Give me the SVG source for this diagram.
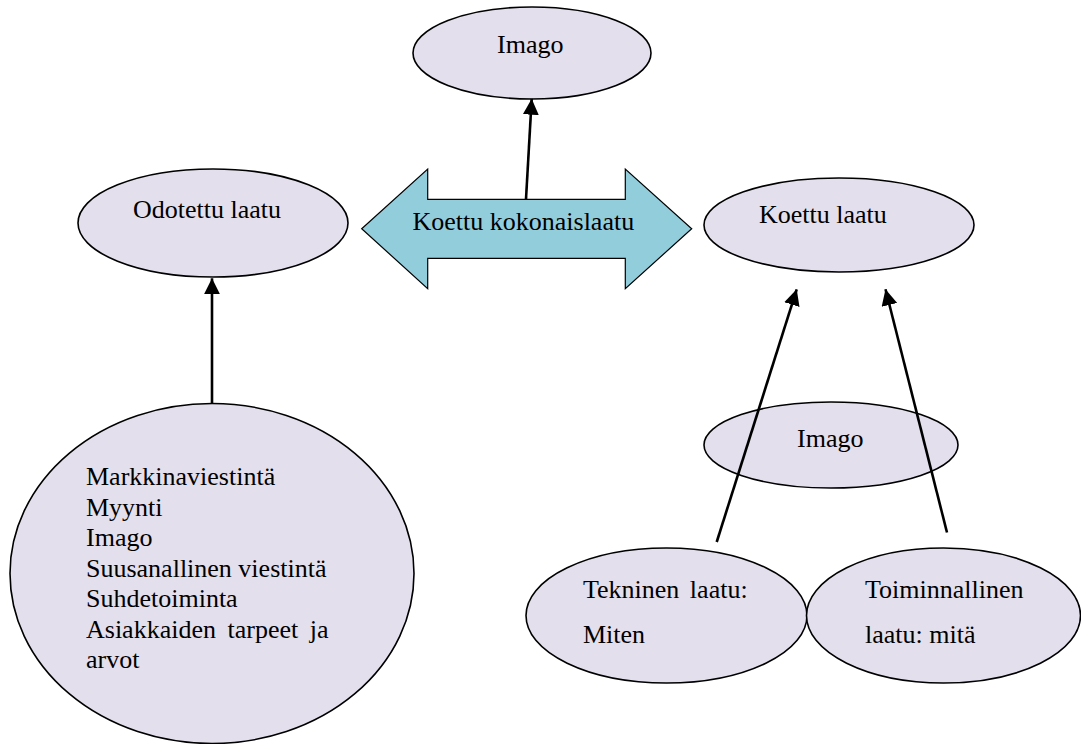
<svg xmlns="http://www.w3.org/2000/svg" width="1081" height="744" viewBox="0 0 1081 744">
<defs>
<style>
.node{fill:#E4DFEC;stroke:#000;stroke-width:1.6}
.big{fill:#92CDDC;stroke:#000;stroke-width:1.2}
.conn line{stroke:#000;stroke-width:2.6;marker-end:url(#ah)}
</style>
<marker id="ah" markerUnits="userSpaceOnUse" markerWidth="16" markerHeight="16" refX="16" refY="8" orient="auto" viewBox="0 0 16 16">
<path d="M0,0 L16,8 L0,16 Z" fill="#000"/>
</marker>
</defs>
<rect width="1081" height="744" fill="#fff"/>
<g font-family="'Liberation Serif', 'Times New Roman', 'DejaVu Serif', serif" font-size="26" fill="#000">
<g id="imago-top">
<ellipse class="node" cx="532" cy="53" rx="119" ry="46"/>
<text x="497" y="53">Imago</text>
</g>
<g id="koettu-kokonaislaatu">
<path class="big" d="M361.7,228.7 L427.7,169 L427.7,199.3 L625.3,199.3 L625.3,169 L691.7,228.7 L625.3,288.7 L625.3,258.3 L427.7,258.3 L427.7,288.7 Z"/>
<text x="412.5" y="230">Koettu kokonaislaatu</text>
</g>
<g id="odotettu-laatu">
<ellipse class="node" cx="213" cy="223" rx="135" ry="54"/>
<text x="133" y="218">Odotettu laatu</text>
</g>
<g id="koettu-laatu">
<ellipse class="node" cx="839" cy="225" rx="135" ry="47"/>
<text x="759" y="223">Koettu laatu</text>
</g>
<g id="imago-mid">
<ellipse class="node" cx="831" cy="445" rx="127" ry="43"/>
<text x="797" y="447">Imago</text>
</g>
<g id="tekijat">
<ellipse class="node" cx="212" cy="573.5" rx="202" ry="170"/>
<text x="86" y="485">Markkinaviestintä</text>
<text x="86" y="515.5">Myynti</text>
<text x="86" y="546">Imago</text>
<text x="86" y="576.5">Suusanallinen viestintä</text>
<text x="86" y="607">Suhdetoiminta</text>
<text x="86" y="637.5" word-spacing="5">Asiakkaiden tarpeet ja</text>
<text x="86" y="668">arvot</text>
</g>
<g id="tekninen-laatu">
<ellipse class="node" cx="666.5" cy="615.5" rx="140.5" ry="67.5"/>
<text x="583" y="598" word-spacing="4">Tekninen laatu:</text>
<text x="583" y="643">Miten</text>
</g>
<g id="toiminnallinen-laatu">
<ellipse class="node" cx="943.5" cy="615.5" rx="137" ry="67.5"/>
<text x="865" y="598">Toiminnallinen</text>
<text x="865" y="643">laatu: mitä</text>
</g>
</g>
<g id="connectors" class="conn">
<line x1="526" y1="199" x2="531.7" y2="98.7"/>
<line x1="212" y1="403" x2="212" y2="278.3"/>
<line x1="716.7" y1="542" x2="796.7" y2="289.3"/>
<line x1="947" y1="532.5" x2="885.5" y2="289.3"/>
</g>
</svg>
